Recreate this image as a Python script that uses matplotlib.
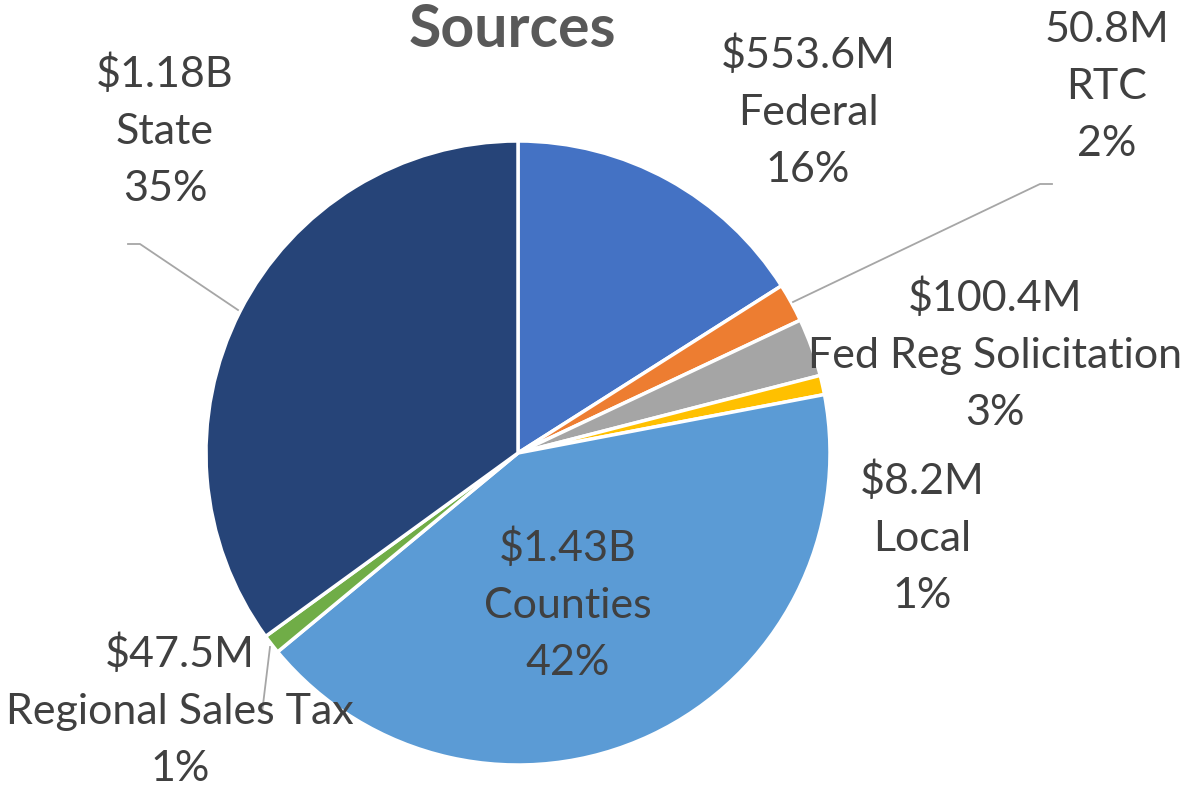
import matplotlib.pyplot as plt

# slices, clockwise from 12 o'clock
names = ['Federal', 'RTC', 'Fed Reg Solicitation', 'Local', 'Counties', 'Regional Sales Tax', 'State']
amounts = ['$553.6M', '50.8M', '$100.4M', '$8.2M', '$1.43B', '$47.5M', '$1.18B']
pcts = [16, 2, 3, 1, 42, 1, 35]
colors = ['#4472C4', '#ED7D31', '#A5A5A5', '#FFC000', '#5B9BD5', '#70AD47', '#264478']

# label centres in pixels (x, y from top)
label_pos = [(808, 112), (1107, 87), (995, 355), (922, 538), (568, 605), (180, 711), (165, 131)]
# leader lines (pixels, y from top)
leaders = [
    [(793, 302), (1040, 184), (1052, 184)],
    [(238, 310), (140, 244), (128, 244)],
    [(270, 647), (262, 713)],
]

W, H = 1191, 790
plt.rcParams['font.family'] = ['Lato', 'DejaVu Sans']
fig = plt.figure(figsize=(W / 100, H / 100), dpi=100)
ax = fig.add_axes([0, 0, 1, 1])

ax.pie(pcts, colors=colors, startangle=90, counterclock=False,
       center=(518, H - 453), radius=312,
       wedgeprops=dict(edgecolor='white', linewidth=2.5))

for (x, y), a, n, p in zip(label_pos, amounts, names, pcts):
    ax.text(x, H - y, f'{a}\n{n}\n{p}%', ha='center', va='center',
            fontsize=31, color='#404040', linespacing=1.62)

for pts in leaders:
    xs = [p[0] for p in pts]
    ys = [H - p[1] for p in pts]
    ax.plot(xs, ys, color='#A6A6A6', lw=1.3)

ax.text(512, H - 30, 'Sources', ha='center', va='center', fontsize=42.5,
        fontweight='bold', color='#595959')

ax.set_xlim(0, W)
ax.set_ylim(0, H)
ax.set_aspect('equal')
ax.axis('off')

fig.savefig('out.png', dpi=100)
